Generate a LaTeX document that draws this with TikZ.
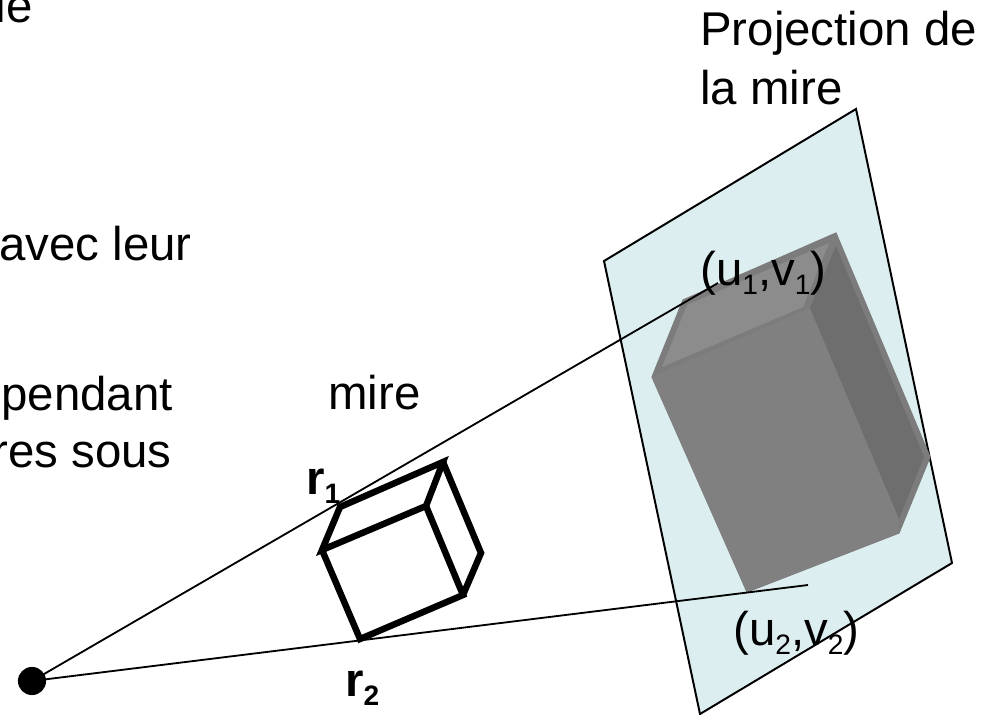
\documentclass[tikz,border=0pt]{standalone}
\usepackage{fontspec}
\setmainfont{Liberation Sans}
\usetikzlibrary{calc}
\definecolor{plan}{HTML}{DCEEF0}
\definecolor{dessus}{HTML}{8C8C8C}
\definecolor{face}{HTML}{808080}
\definecolor{cote}{HTML}{6E6E6E}
\definecolor{biseau}{HTML}{7C7C7C}
\newcommand{\gros}{\fontsize{33.7}{40}\selectfont}
\newcommand{\indice}[1]{\raisebox{-7pt}{\fontsize{20}{24}\selectfont #1}}
\tikzset{
  ecran/.style={fill=plan,draw=black,line width=1.4pt,line join=miter},
  rayon/.style={black,line width=1.3pt},
  arete/.style={black,line width=4.6pt,line join=miter},
  texte/.style={anchor=base west,inner sep=0pt,font=\gros},
  oeil/.style={circle,fill=black,inner sep=0pt,minimum size=20pt},
}
\begin{document}
\begin{tikzpicture}[x=0.025cm,y=-0.025cm]
  \useasboundingbox (0,0) rectangle (984,715);
  % plan image
  \draw[ecran] (856,109)--(604,261)--(700,714)--(952,563)--cycle;
  % projection
  \filldraw[biseau,line width=0.8pt,miter limit=10] (652,377)--(683,300)--(836,233)--(930,457)--(899,533)--(747,592)--cycle;
  \fill[face] (652,377)--(810,308)--(899,519)--(899,533)--(747,592)--cycle;
  \fill[dessus] (662,367)--(687,305)--(829,243)--(803,307)--cycle;
  \fill[cote] (836,246)--(810,308)--(899,519)--(924,457)--cycle;
  % mire
  \draw[arete] (322,550)--(340,507)--(443,462)--(426,506)--cycle;
  \draw[arete] (322,550)--(360,639)--(463,595)--(426,506);
  \draw[arete] (443,462)--(481,553)--(463,595);
  % rayons
  \node[oeil] (centre) at (32,681) {};
  \coordinate (p1) at (718,283);
  \coordinate (p2) at (808,585);
  \draw[rayon] (centre.center)--(p1);
  \draw[rayon] (centre.center)--(p2);
  % textes
  \node[texte,anchor=base east] (t1) at (33,23) {le};
  \node[texte,anchor=base east] (t2) at (192,260) {avec leur};
  \node[texte,anchor=base east] (t3) at (173,410) {pendant};
  \node[texte,anchor=base east] (t4) at (172,467) {res sous};
  \node[texte] (mire) at (328,409) {mire};
  \node[texte] (proj1) at (700,46) {Projection de};
  \node[texte] (proj2) at (700,105) {la mire};
  \node[texte] (uv1) at (700,285) {(u\indice{1},v\indice{1})};
  \node[texte] (uv2) at (733,645) {(u\indice{2},v\indice{2})};
  \node[texte,font=\gros\bfseries] (r1) at (306,494) {r\indice{\bfseries 1}};
  \node[texte,font=\gros\bfseries] (r2) at (345,696) {r\indice{\bfseries 2}};
\end{tikzpicture}
\end{document}
